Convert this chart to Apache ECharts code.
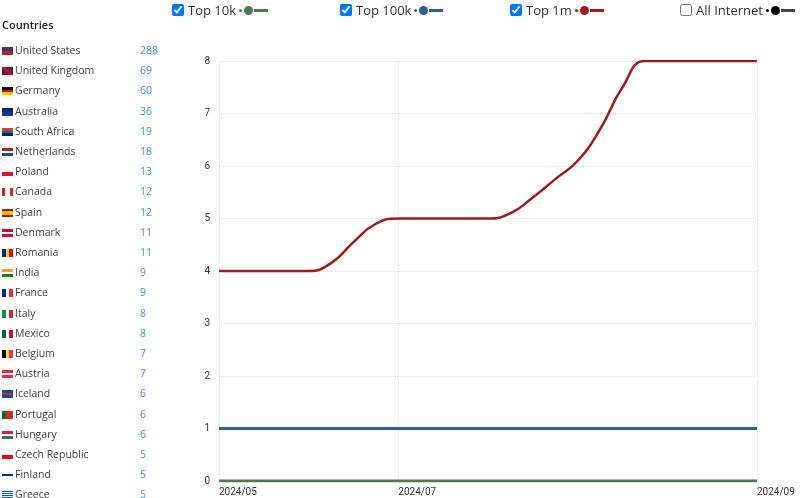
<!DOCTYPE html>
<html>
<head>
<meta charset="utf-8">
<script src="https://cdn.jsdelivr.net/npm/echarts@6/dist/echarts.min.js"></script>
<style>
  body { margin: 0; background: #fff; font-family: "Open Sans", Lato, sans-serif; }
  #main { position: absolute; left: 0; top: 0; width: 800px; height: 498px; }
  #side { position: absolute; left: 2px; top: 0; width: 175px; font-size: 10.5px; color: #444; }
  #side h4 { margin: 0; position: absolute; top: 17px; left: 0; font-size: 11px; color: #222; font-weight: 600; }
  .row { position: absolute; left: 0; width: 175px; height: 16px; line-height: 16px; }
  .row .fl { display: inline-block; width: 11px; height: 8px; margin-right: 2px; vertical-align: -1px; }
  .row .n { position: absolute; left: 138px; color: #3d8fe0; }
  #legend { position: absolute; top: 0; left: 0; width: 800px; height: 20px; font-size: 13px; color: #333; }
  .lg { position: absolute; top: 1px; white-space: nowrap; }
  .lg input { margin: 0 4px 0 0; width: 12px; height: 12px; vertical-align: -1px; }
  .ic { display: inline-block; position: relative; width: 30px; height: 10px; vertical-align: 0; margin-left: 3px; }
  .ic i { position: absolute; }
</style>
</head>
<body>
<div id="main"></div>
<div id="side"><h4>Countries</h4></div>
<div id="legend"></div>
<script>
var countries = ['United States', 'United Kingdom', 'Germany', 'Australia', 'South Africa', 'Netherlands', 'Poland', 'Canada', 'Spain', 'Denmark', 'Romania', 'India', 'France', 'Italy', 'Mexico', 'Belgium', 'Austria', 'Iceland', 'Portugal', 'Hungary', 'Czech Republic', 'Finland', 'Greece'];
var countryCounts = [288, 69, 60, 36, 19, 18, 13, 12, 12, 11, 11, 9, 9, 8, 8, 7, 7, 6, 6, 6, 5, 5, 5];
var flagColors = [
  'linear-gradient(#3c3b6e 0 50%, #b22234 50%)', 'linear-gradient(45deg,#012169,#c8102e,#012169)', 'linear-gradient(#000 0 33%,#d00 33% 66%,#fc0 66%)',
  'linear-gradient(#012169,#233a8a)', 'linear-gradient(#e03c31 0 33%,#007749 33% 66%,#001489 66%)', 'linear-gradient(#ae1c28 0 33%,#fff 33% 66%,#21468b 66%)',
  'linear-gradient(#fff 0 50%,#dc143c 50%)', 'linear-gradient(90deg,#d52b1e 0 25%,#fff 25% 75%,#d52b1e 75%)', 'linear-gradient(#aa151b 0 25%,#f1bf00 25% 75%,#aa151b 75%)',
  'linear-gradient(#c8102e 0 40%,#fff 40% 60%,#c8102e 60%)', 'linear-gradient(90deg,#002b7f 0 33%,#fcd116 33% 66%,#ce1126 66%)', 'linear-gradient(#f93 0 33%,#fff 33% 66%,#138808 66%)',
  'linear-gradient(90deg,#002395 0 33%,#fff 33% 66%,#ed2939 66%)', 'linear-gradient(90deg,#009246 0 33%,#fff 33% 66%,#ce2b37 66%)', 'linear-gradient(90deg,#006847 0 33%,#fff 33% 66%,#ce1126 66%)',
  'linear-gradient(90deg,#000 0 33%,#fdda24 33% 66%,#ef3340 66%)', 'linear-gradient(#ed2939 0 33%,#fff 33% 66%,#ed2939 66%)', 'linear-gradient(#02529c 0 40%,#dc1e35 40% 60%,#02529c 60%)',
  'linear-gradient(90deg,#046a38 0 40%,#da291c 40%)', 'linear-gradient(#ce2939 0 33%,#fff 33% 66%,#477050 66%)', 'linear-gradient(#fff 0 50%,#d7141a 50%)',
  'linear-gradient(#fff 0 35%,#003580 35% 65%,#fff 65%)', 'repeating-linear-gradient(#0d5eaf 0 1px,#fff 1px 2px)'
];

var weeks = ['2024/05', '', '', '', '', '', '', '', '2024/07', '', '', '', '', '', '', '', '', '', '', '', '', '', '', '', '2024/09'];
var top10k = [0, 0, 0, 0, 0, 0, 0, 0, 0, 0, 0, 0, 0, 0, 0, 0, 0, 0, 0, 0, 0, 0, 0, 0, 0];
var top100k = [1, 1, 1, 1, 1, 1, 1, 1, 1, 1, 1, 1, 1, 1, 1, 1, 1, 1, 1, 1, 1, 1, 1, 1, 1];
var top1m = [4, 4, 4, 4, 4, 4.15, 4.55, 4.9, 5, 5, 5, 5, 5, 5.1, 5.4, 5.75, 6.1, 6.7, 7.5, 8, 8, 8, 8, 8, 8];
var legendNames = ['Top 10k', 'Top 100k', 'Top 1m', 'All Internet'];
var legendColors = ['#4e7a4e', '#2b5f99', '#a01c1c', '#000'];
var legendLeft = [172, 340, 510, 680];
var legendOn = [true, true, true, false];

var side = document.getElementById('side');
countries.forEach(function (c, i) {
  var d = document.createElement('div');
  d.className = 'row';
  d.style.top = (42 + i * 20.2) + 'px';
  d.innerHTML = '<span class="fl" style="background:' + flagColors[i] + '"></span>' + c + '<span class="n">' + countryCounts[i] + '</span>';
  side.appendChild(d);
});

var lg = document.getElementById('legend');
legendNames.forEach(function (n, i) {
  var d = document.createElement('div');
  d.className = 'lg';
  d.style.left = legendLeft[i] + 'px';
  var col = legendColors[i];
  var lineCol = i === 3 ? '#444' : col;
  d.innerHTML = '<input type="checkbox"' + (legendOn[i] ? ' checked' : '') + '>' + n +
    '<span class="ic"><i style="left:0;top:4px;width:3px;height:3px;border-radius:50%;background:' + col + '"></i>' +
    '<i style="left:5px;top:1px;width:9px;height:9px;border-radius:50%;background:' + col + '"></i>' +
    '<i style="left:15px;top:4px;width:14px;height:3px;background:' + lineCol + '"></i></span>';
  lg.appendChild(d);
});

var myChart = echarts.init(document.getElementById('main'));
var labelIdx = [0, 8, 24];
var option = {
  animation: false,
  grid: { left: 219, right: 43, top: 61, bottom: 17 },
  xAxis: {
    type: 'category',
    boundaryGap: false,
    data: weeks,
    axisLine: { show: false },
    axisTick: { show: false },
    axisLabel: {
      interval: function (i) { return labelIdx.indexOf(i) >= 0; },
      color: '#333', fontSize: 10, fontFamily: 'Roboto', margin: 6, align: 'left'
    },
    splitLine: {
      show: true,
      interval: function (i) { return labelIdx.indexOf(i) >= 0; },
      lineStyle: { type: 'dotted', color: '#ddd' }
    }
  },
  yAxis: {
    type: 'value', min: 0, max: 8, interval: 1,
    axisLine: { show: false },
    axisTick: { show: false },
    axisLabel: { color: '#333', fontSize: 10, fontFamily: 'Roboto', margin: 9 },
    splitLine: { lineStyle: { type: 'dotted', color: '#ddd' } }
  },
  series: [
    { name: 'Top 10k', type: 'line', data: top10k, showSymbol: false, lineStyle: { width: 3, color: legendColors[0] } },
    { name: 'Top 100k', type: 'line', data: top100k, showSymbol: false, lineStyle: { width: 3, color: legendColors[1] } },
    { name: 'Top 1m', type: 'line', data: top1m, smooth: 0.5, showSymbol: false, lineStyle: { width: 2.5, color: legendColors[2] } }
  ]
};
myChart.setOption(option);
</script>
</body>
</html>
